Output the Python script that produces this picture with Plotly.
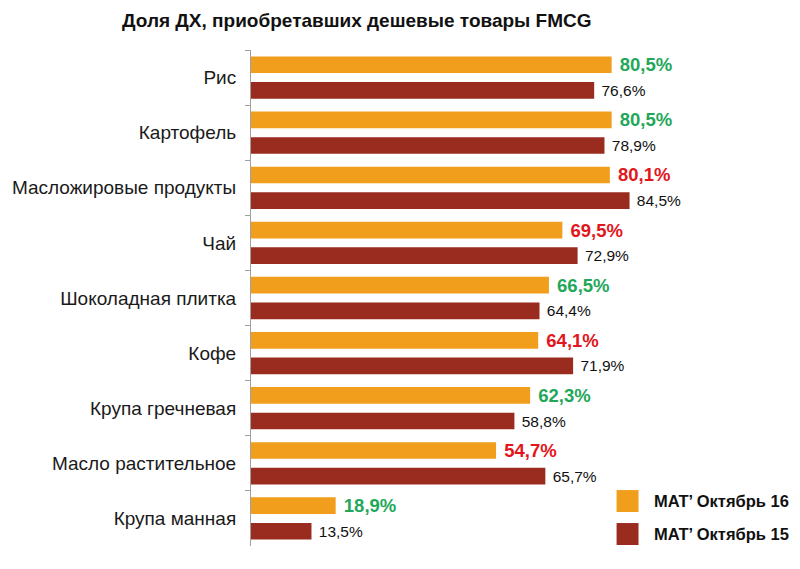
import plotly.graph_objects as go

categories = ["Рис", "Картофель", "Масложировые продукты", "Чай", "Шоколадная плитка",
              "Кофе", "Крупа гречневая", "Масло растительное", "Крупа манная"]
mat_oct16 = [80.5, 80.5, 80.1, 69.5, 66.5, 64.1, 62.3, 54.7, 18.9]
mat_oct15 = [76.6, 78.9, 84.5, 72.9, 64.4, 71.9, 58.8, 65.7, 13.5]
series_names = ["MAT\u2019 Октябрь 16", "MAT\u2019 Октябрь 15"]
title_text = "Доля ДХ, приобретавших дешевые товары FMCG"

ORANGE = "#F09E1C"
DARKRED = "#9A2C1F"
GREEN = "#1FA85A"
RED = "#E3161C"
FONT = "Liberation Sans, Arial, sans-serif"


def fmt(v):
    return "\u00a0" + f"{v:.1f}".replace(".", ",") + "%"


label_colors16 = [GREEN if a > b else RED for a, b in zip(mat_oct16, mat_oct15)]

fig = go.Figure()
fig.add_trace(go.Bar(
    y=categories, x=mat_oct16, orientation="h", name=series_names[0],
    marker=dict(color=ORANGE, line=dict(width=0)),
    text=[fmt(v) for v in mat_oct16], textposition="outside", constraintext="none",
    textfont=dict(family=FONT, size=18.5, color=label_colors16, weight="bold"),
    cliponaxis=False, showlegend=False,
))
fig.add_trace(go.Bar(
    y=categories, x=mat_oct15, orientation="h", name=series_names[1],
    marker=dict(color=DARKRED, line=dict(width=0)),
    text=[fmt(v) for v in mat_oct15], textposition="outside", constraintext="none",
    textfont=dict(family=FONT, size=15.5, color="#111111"),
    cliponaxis=False, showlegend=False,
))

# custom legend (large squares)
legend_items = [(series_names[0], ORANGE, 0.1128, 0.0685), (series_names[1], DARKRED, 0.0463, 0.002)]
for name, col, y1, y0 in legend_items:
    fig.add_shape(type="rect", xref="paper", yref="paper", x0=0.816, x1=0.865, y0=y0, y1=y1,
                  fillcolor=col, line=dict(width=0))
    fig.add_annotation(xref="paper", yref="paper", x=0.896, y=(y0 + y1) / 2, text=name,
                       showarrow=False, xanchor="left", yanchor="middle",
                       font=dict(family=FONT, size=16.5, color="#111111", weight="bold"))

fig.add_annotation(xref="paper", yref="paper", x=-0.293, y=1.0, yshift=30, text=title_text,
                   showarrow=False, xanchor="left", yanchor="middle",
                   font=dict(family=FONT, size=19, color="#111111", weight="bold"))

# page body has an 8px default margin, so the figure is sized/placed to compensate
fig.update_layout(
    width=792, height=561,
    margin=dict(l=243, r=100.5, t=41.5, b=23, pad=0, autoexpand=False),
    paper_bgcolor="white", plot_bgcolor="white",
    barmode="group", bargap=0.07, bargroupgap=0.35,
    xaxis=dict(range=[0, 100], visible=False, fixedrange=True, automargin=False),
    yaxis=dict(autorange="reversed", type="category", tickson="boundaries",
               ticks="outside", ticklen=5, tickcolor="#A0A0A0", automargin=False,
               showline=True, linecolor="#A0A0A0", linewidth=1,
               showgrid=False, ticklabelstandoff=10,
               tickfont=dict(family=FONT, size=19, color="#1a1a1a")),
    font=dict(family=FONT),
)

fig.write_html("out.html")
